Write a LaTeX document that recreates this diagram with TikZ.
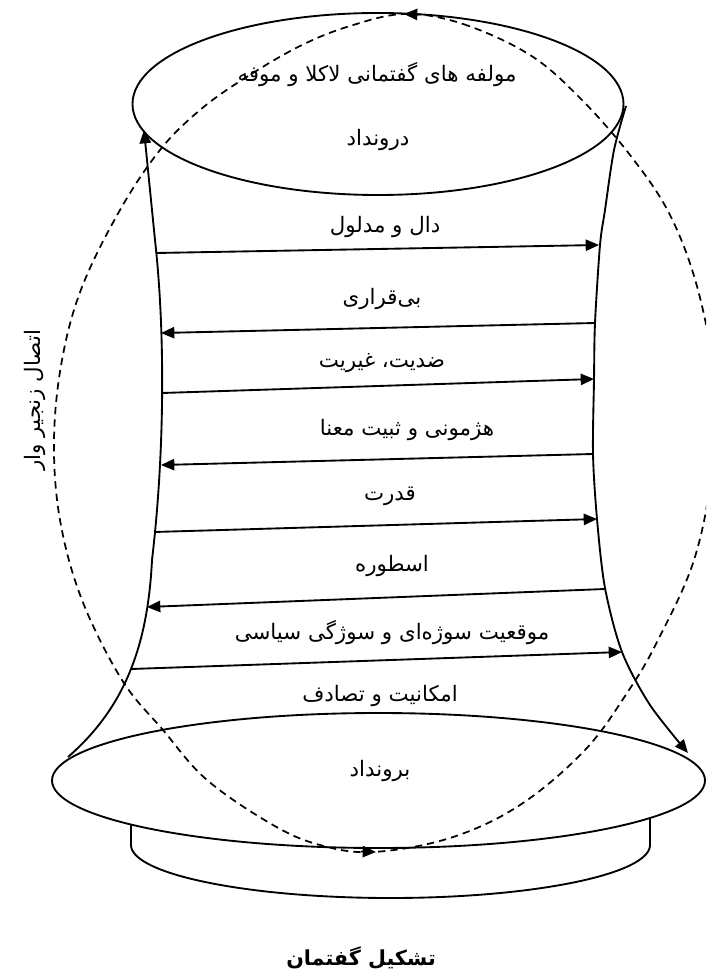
\documentclass[tikz,border=0pt]{standalone}
\usepackage{fontspec}
\newfontfamily\fa[Script=Arabic]{DejaVu Sans}
\TeXXeTstate=1
\usetikzlibrary{arrows.meta,shapes.geometric}
\begin{document}
\begin{tikzpicture}[x=0.75pt,y=-0.75pt,
  line width=1.4pt,
  lbl/.style={font=\fa\fontsize{16}{18}\selectfont, inner sep=0pt},
  captext/.style={font=\fa\bfseries\fontsize{15.5}{18}\selectfont, inner sep=0pt},
  tipr/.style={-{Triangle[length=10pt,width=8.5pt]}},
  dsh/.style={dash pattern=on 5.5pt off 3.8pt, line width=1.3pt},
  ell/.style={draw, ellipse, inner sep=0pt},
]
\useasboundingbox (0,0) rectangle (706,973);
\clip (0,0) rectangle (706,973);

% ellipses
\node[ell, minimum width=368.25pt, minimum height=136.5pt] (topell) at (378,104) {};
\node[ell, minimum width=489.75pt, minimum height=101.25pt] (botell) at (378.5,780.5) {};

% base
\draw (131,824) -- (131,845) .. controls (131,874) and (247,898) .. (390.5,898)
      .. controls (534,898) and (650,874) .. (650,845) -- (650,818);

% body curves
\draw[tipr] (68,757) .. controls (128,705) and (148,640) .. (152,560)
      .. controls (165,450) and (165,330) .. (155,240)
      .. controls (151,200) and (147,160) .. (144,130);
\draw[tipr] plot[smooth] coordinates {(626,106) (614,150) (605,210) (600,245) (595,323) (594,380) (593,454) (597,519) (605,588) (622,652) (650,705) (688,753)};

% dashed loop
\draw[dsh] plot[smooth cycle, tension=0.6] coordinates {
 (405,14) (463,24) (530,55) (580,98) (630,155) (670,215) (698,290) (714,380)
 (712,470) (694,560) (658,640) (629,690) (585,750) (520,805) (450,838) (373,852)
 (320,845) (273,825) (207,780) (163,730) (122,680) (82,600) (60,520) (54,440)
 (62,360) (82,287) (120,210) (160,150) (200,110) (245,78) (300,46) (350,26)};
\coordinate (ta1) at (419,14.5); \coordinate (ta2) at (404,14);
\coordinate (ba1) at (361,851.5); \coordinate (ba2) at (376,852);
\draw[tipr] (ta1) -- (ta2);
\draw[tipr] (ba1) -- (ba2);

% horizontal arrows
\coordinate (a1s) at (156,253); \coordinate (a1e) at (599,245);
\coordinate (a2s) at (595,323); \coordinate (a2e) at (161,333);
\coordinate (a3s) at (162,393); \coordinate (a3e) at (594,379);
\coordinate (a4s) at (593,454); \coordinate (a4e) at (161,465);
\coordinate (a5s) at (154,532); \coordinate (a5e) at (597,519);
\coordinate (a6s) at (605,589); \coordinate (a6e) at (147,607);
\coordinate (a7s) at (131,669); \coordinate (a7e) at (622,652);
\draw[tipr] (a1s) -- (a1e);
\draw[tipr] (a2s) -- (a2e);
\draw[tipr] (a3s) -- (a3e);
\draw[tipr] (a4s) -- (a4e);
\draw[tipr] (a5s) -- (a5e);
\draw[tipr] (a6s) -- (a6e);
\draw[tipr] (a7s) -- (a7e);

% labels
\node[lbl] (t0) at (377,75) {\beginR مولفه های گفتمانی لاکلا و موفه\endR};
\node[lbl] (t1) at (378,140) {\beginR درونداد\endR};
\node[lbl] (t2) at (385,227) {\beginR دال و مدلول\endR};
\node[lbl] (t3) at (382,299) {\beginR بی‌قراری\endR};
\node[lbl] (t4) at (382,363) {\beginR ضدیت، غیریت\endR};
\node[lbl] (t5) at (407,430) {\beginR هژمونی و ثبیت معنا\endR};
\node[lbl] (t6) at (390,496) {\beginR قدرت\endR};
\node[lbl] (t7) at (392,566) {\beginR اسطوره\endR};
\node[lbl] (t8) at (392,633) {\beginR موقعیت سوژه‌ای و سوژگی سیاسی\endR};
\node[lbl] (t9) at (380,696) {\beginR امکانیت و تصادف\endR};
\node[lbl] (t10) at (380,771) {\beginR برونداد\endR};
\node[lbl, rotate=90] (t11) at (35,400) {\beginR اتصال زنجیر وار\endR};
\node[captext] (t12) at (361,958) {\beginR تشکیل گفتمان\endR};
\end{tikzpicture}
\end{document}
